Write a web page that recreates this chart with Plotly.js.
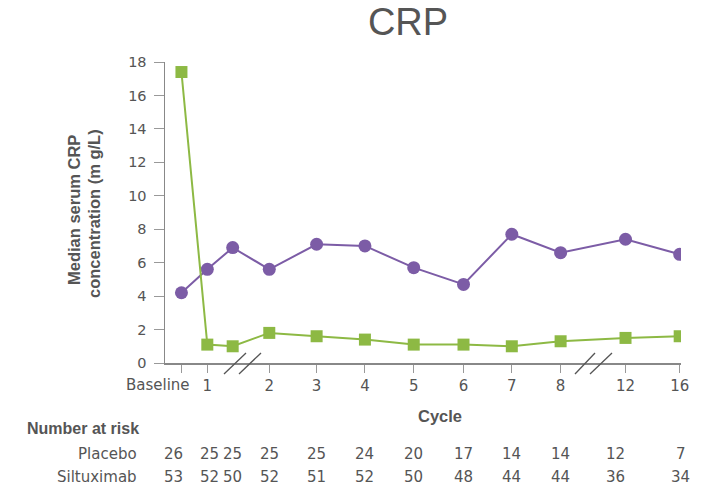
<!DOCTYPE html>
<html>
<head>
<meta charset="utf-8">
<script src="https://cdn.plot.ly/plotly-3.0.1.min.js"></script>
<style>html,body{margin:0;padding:0;background:#fff;}#chart{width:713px;height:490px;}</style>
</head>
<body>
<div id="chart"></div>
<script>
// ---- data ----
const visitLabels = ['Baseline', '1', '', '2', '3', '4', '5', '6', '7', '8', '12', '16'];
const placeboCRP = [4.2, 5.6, 6.9, 5.6, 7.1, 7.0, 5.7, 4.7, 7.7, 6.6, 7.4, 6.5];
const siltuximabCRP = [17.4, 1.1, 1.0, 1.8, 1.6, 1.4, 1.1, 1.1, 1.0, 1.3, 1.5, 1.6];
const placeboAtRisk = [26, 25, 25, 25, 25, 24, 20, 17, 14, 14, 12, 7];
const siltuximabAtRisk = [53, 52, 50, 52, 51, 52, 50, 48, 44, 44, 36, 34];

// ---- layout helpers (axis positions of visits, broken axis) ----
const visitPos = [0.2, 0.73, 1.25, 2, 2.97, 3.96, 4.96, 5.98, 6.97, 7.97, 9.3, 10.41];
const riskShift = [-8, 2, 0, 0, 0, 0, 0, 0, 0, 0, -10, 1];

const purple = 'rgb(124,92,166)';
const green = 'rgb(141,185,68)';
const txt = '#555';
const font = 'Liberation Sans, Arial, sans-serif';
const font2 = 'DejaVu Sans, sans-serif';

const tickIdx = visitLabels.map((l, i) => i).filter(i => visitLabels[i] !== '');

const traces = [
  {
    x: visitPos, y: placeboCRP, type: 'scatter', mode: 'lines+markers', name: 'Placebo',
    line: {color: purple, width: 2}, marker: {color: purple, size: 13, symbol: 'circle'}
  },
  {
    x: visitPos, y: siltuximabCRP, type: 'scatter', mode: 'lines+markers', name: 'Siltuximab',
    line: {color: green, width: 2}, marker: {color: green, size: 12, symbol: 'square'}
  }
];

const pTop = 62, pBot = 363;
const py = p => (pBot - p) / (pBot - pTop);
const px = p => (p - 165) / 516;

const annotations = [];
placeboAtRisk.forEach((v, i) => annotations.push({
  x: visitPos[i], xref: 'x', y: py(454), yref: 'paper', text: String(v), showarrow: false,
  xanchor: 'center', yanchor: 'middle', xshift: riskShift[i], font: {size: 15, color: txt, family: font2}
}));
siltuximabAtRisk.forEach((v, i) => annotations.push({
  x: visitPos[i], xref: 'x', y: py(477), yref: 'paper', text: String(v), showarrow: false,
  xanchor: 'center', yanchor: 'middle', xshift: riskShift[i], font: {size: 15, color: txt, family: font2}
}));
annotations.push(
  {x: px(25), xref: 'paper', y: py(429), yref: 'paper', text: '<b>Number at risk</b>', showarrow: false,
   xanchor: 'left', yanchor: 'middle', font: {size: 16, color: txt, family: font}},
  {x: px(139), xref: 'paper', y: py(454), yref: 'paper', text: 'Placebo', showarrow: false,
   xanchor: 'right', yanchor: 'middle', font: {size: 15, color: txt, family: font2}},
  {x: px(139), xref: 'paper', y: py(477), yref: 'paper', text: 'Siltuximab', showarrow: false,
   xanchor: 'right', yanchor: 'middle', font: {size: 15, color: txt, family: font2}},
  {x: px(192), xref: 'paper', y: py(385), yref: 'paper', text: visitLabels[0], showarrow: false,
   xanchor: 'right', yanchor: 'middle', font: {size: 15, color: txt, family: font2}},
  {x: px(440), xref: 'paper', y: py(416), yref: 'paper', text: '<b>Cycle</b>', showarrow: false,
   xanchor: 'center', yanchor: 'middle', font: {size: 16.5, color: txt, family: font}},
  {x: px(74), xref: 'paper', y: py(210), yref: 'paper', text: '<b>Median serum CRP</b>',
   showarrow: false, textangle: -90, xanchor: 'center', yanchor: 'middle',
   font: {size: 16.5, color: txt, family: font}},
  {x: px(94), xref: 'paper', y: py(214), yref: 'paper', text: '<b>concentration (m g/L)</b>',
   showarrow: false, textangle: -90, xanchor: 'center', yanchor: 'middle',
   font: {size: 16.5, color: txt, family: font}}
);

// axis break marks (decoration, in pixel-relative paper coords)
const breakLines = [[224, 246], [239, 261], [575, 595], [590, 612]];
const shapes = breakLines.map(b => ({
  type: 'line', xref: 'paper', yref: 'paper',
  x0: px(b[0]), y0: py(374), x1: px(b[1]), y1: py(353),
  line: {color: '#555', width: 1.3}
}));

const layout = {
  width: 713, height: 490,
  margin: {l: 165, r: 32, t: 62, b: 127},
  paper_bgcolor: '#fff', plot_bgcolor: '#fff',
  showlegend: false,
  font: {family: font2, color: txt},
  title: {text: 'CRP', x: 408 / 713, xanchor: 'center', xref: 'container',
          y: 1 - 22 / 490, yanchor: 'middle', yref: 'container',
          font: {size: 38, color: txt, family: font}},
  xaxis: {
    range: [-0.137, 10.437], showgrid: false, zeroline: false,
    showline: true, linecolor: '#888', linewidth: 1.5,
    tickmode: 'array', tickvals: tickIdx.map(i => visitPos[i]),
    ticktext: tickIdx.map(i => i === 0 ? '' : visitLabels[i]), tickangle: 0,
    ticks: 'outside', ticklen: 8, tickcolor: '#999', tickwidth: 1,
    tickfont: {size: 15, color: txt, family: font2}, fixedrange: true
  },
  yaxis: {
    range: [0, 18], dtick: 2, showgrid: false, zeroline: false,
    showline: true, linecolor: '#888', linewidth: 1.5,
    ticks: 'outside', ticklen: 10, tickcolor: '#999', tickwidth: 1, ticklabelstandoff: 4,
    tickfont: {size: 14.5, color: txt, family: font2}, fixedrange: true
  },
  annotations: annotations,
  shapes: shapes
};

Plotly.newPlot('chart', traces, layout, {displayModeBar: false, staticPlot: true});
</script>
</body>
</html>
